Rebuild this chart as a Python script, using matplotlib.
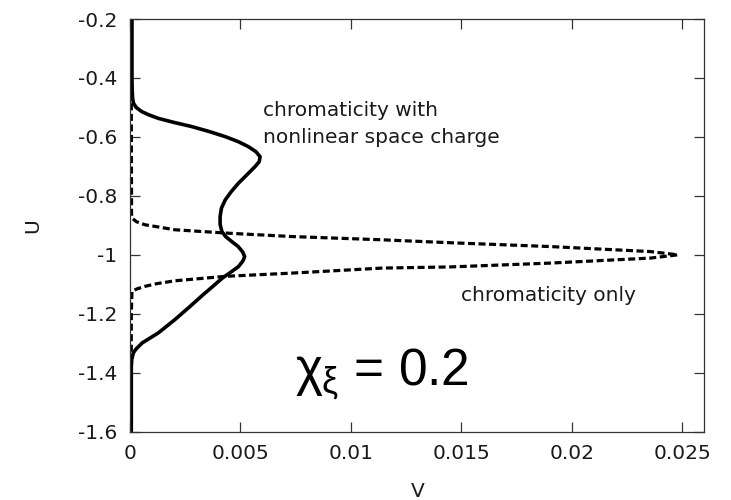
import matplotlib
matplotlib.use("Agg")
import matplotlib.pyplot as plt
from matplotlib.ticker import FuncFormatter

plt.rcParams['font.family'] = 'DejaVu Sans'
plt.rcParams['axes.unicode_minus'] = False
plt.rcParams['mathtext.fontset'] = 'custom'
plt.rcParams['mathtext.rm'] = 'Liberation Sans'
plt.rcParams['mathtext.it'] = 'Liberation Sans'

# solid curve: chromaticity with nonlinear space charge (U, V pairs)
u_sc = [-0.20, -0.30, -0.40, -0.441, -0.470, -0.486, -0.500, -0.514, -0.525, -0.537,
        -0.551, -0.565, -0.582, -0.599, -0.616, -0.633, -0.650, -0.667, -0.684, -0.700,
        -0.728, -0.757, -0.786, -0.814, -0.842, -0.870, -0.896, -0.921, -0.938, -0.955,
        -0.972, -0.990, -1.006, -1.020, -1.040, -1.058, -1.079, -1.107, -1.136, -1.175,
        -1.220, -1.265, -1.299, -1.320, -1.333, -1.355, -1.379, -1.45, -1.60]
v_sc = [0.00009, 0.00009, 0.00009, 0.0001, 0.00012, 0.00016, 0.00028, 0.00053, 0.00085, 0.00128,
        0.00200, 0.00280, 0.00360, 0.00431, 0.00490, 0.00536, 0.00570, 0.00589, 0.00585, 0.00567,
        0.00530, 0.00491, 0.00458, 0.00431, 0.00414, 0.00408, 0.00408, 0.00416, 0.00433, 0.00461,
        0.00490, 0.00510, 0.00519, 0.00512, 0.00491, 0.00458, 0.00418, 0.00375, 0.00330, 0.00272,
        0.00203, 0.00128, 0.00055, 0.00027, 0.00015, 0.00008, 0.00006, 0.00006, 0.00006]

# dashed curve: chromaticity only
u_ch = [-0.20, -0.50, -0.80, -0.860, -0.876, -0.888, -0.898, -0.915, -0.926, -0.938,
        -0.949, -0.959, -0.972, -0.989, -1.000, -1.011, -1.028, -1.041, -1.045, -1.062,
        -1.073, -1.088, -1.098, -1.107, -1.116, -1.124, -1.20, -1.40, -1.60]
v_ch = [0.00006, 0.00006, 0.00007, 0.00007, 0.00010, 0.00030, 0.00068, 0.00204, 0.00431, 0.00733,
        0.01141, 0.01451, 0.01904, 0.02357, 0.02480, 0.02357, 0.01904, 0.01451, 0.01141, 0.00733,
        0.00431, 0.00204, 0.00120, 0.00068, 0.00030, 0.00009, 0.00006, 0.00006, 0.00006]

x_ticks = [0, 0.005, 0.01, 0.015, 0.02, 0.025]
y_ticks = [-1.6, -1.4, -1.2, -1.0, -0.8, -0.6, -0.4, -0.2]

fig = plt.figure(figsize=(7.31, 5), dpi=100)
ax = fig.add_axes([0.1778, 0.1366, 0.7857, 0.8254])

ax.plot(v_sc, u_sc, color='black', lw=2.6, solid_capstyle='butt', solid_joinstyle='round')
ax.plot(v_ch, u_ch, color='black', lw=2.3, linestyle=(0, (2.2, 1.1)))

ax.set_xlim(0, 0.026)
ax.set_ylim(-1.6, -0.2)
ax.set_xticks(x_ticks)
ax.set_yticks(y_ticks)
ax.xaxis.set_major_formatter(FuncFormatter(lambda v, p: '%g' % v))
ax.yaxis.set_major_formatter(FuncFormatter(lambda v, p: '%g' % round(v, 2)))
ax.tick_params(direction='in', length=7, width=0.9, top=True, right=True,
               labelsize=14.5, labelcolor='#1a1a1a', color='#333333', pad=9)
for s in ax.spines.values():
    s.set_color('#333333')
    s.set_linewidth(0.9)

ax.set_xlabel('V', fontsize=14.5, color='#1a1a1a')
ax.set_ylabel('U', fontsize=14.5, color='#1a1a1a')
ax.xaxis.set_label_coords(0.501, -0.121)
ax.yaxis.set_label_coords(-0.152, 0.5)

ax.text(0.00603, -0.5288, 'chromaticity with', fontsize=14.5, color='#1a1a1a')
ax.text(0.00603, -0.620, 'nonlinear space charge', fontsize=14.5, color='#1a1a1a')
ax.text(0.0150, -1.158, 'chromaticity only', fontsize=14.5, color='#1a1a1a')
ax.text(0.00748, -1.4407, r'$\chi_{\xi}$ = 0.2', fontsize=37, family='Liberation Sans',
        color='black')

fig.savefig('out.png', dpi=100)
